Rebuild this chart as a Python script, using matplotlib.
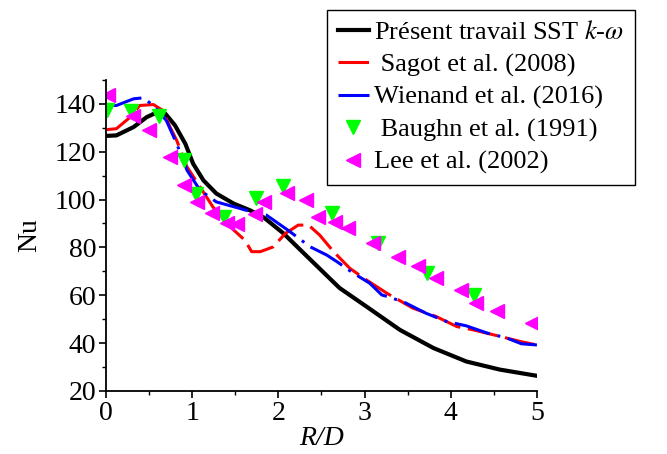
import matplotlib
matplotlib.use("Agg")
import matplotlib.pyplot as plt
from matplotlib.ticker import MultipleLocator

plt.rcParams['font.family'] = ['Liberation Serif', 'DejaVu Serif']
plt.rcParams['mathtext.fontset'] = 'stix'

# Present work SST k-omega
present_x = [0.0, 0.12, 0.32, 0.47, 0.57, 0.69, 0.80, 0.92, 1.01, 1.13, 1.28, 1.48, 1.67,
             1.83, 2.06, 2.33, 2.71, 3.02, 3.41, 3.80, 4.18, 4.57, 5.0]
present_y = [126.6, 126.8, 130.3, 134.4, 136.1, 135.8, 131.0, 123.3, 115.0, 108.0, 102.5,
             98.3, 95.5, 92.5, 85.8, 76.3, 63.0, 55.3, 45.5, 37.9, 32.3, 28.9, 26.3]

# Sagot et al. (2008)
sagot_x = [0.0, 0.12, 0.28, 0.39, 0.55, 0.66, 0.74, 0.82, 0.94, 1.09, 1.24, 1.44, 1.61,
           1.69, 1.79, 1.94, 2.08, 2.23, 2.35, 2.48, 2.64, 2.83, 3.02, 3.26, 3.56, 3.83,
           4.07, 4.26, 4.57, 4.80, 5.0]
sagot_y = [129.2, 129.6, 134.4, 139.3, 139.7, 137.2, 130.5, 124.7, 113.6, 105.3, 96.9,
           88.6, 83.0, 78.2, 78.2, 80.2, 85.8, 89.3, 89.3, 85.1, 78.2, 71.2, 66.4, 60.8,
           54.6, 51.1, 46.9, 45.5, 42.8, 40.7, 39.2]

# Wienand et al. (2016)
wienand_x = [0.0, 0.12, 0.32, 0.43, 0.55, 0.70, 0.82, 0.94, 1.09, 1.28, 1.55, 1.75, 1.86,
             2.11, 2.37, 2.56, 2.68, 2.87, 3.06, 3.20, 3.29, 3.48, 3.71, 3.95, 4.18, 4.42,
             4.65, 4.82, 5.0]
wienand_y = [139.5, 139.3, 142.1, 142.5, 139.3, 133.0, 123.3, 112.2, 103.9, 99.0, 96.3,
             94.2, 93.5, 87.2, 80.2, 76.8, 74.0, 69.2, 65.0, 60.1, 59.2, 56.7, 52.5, 49.0,
             47.2, 44.2, 42.1, 39.7, 39.2]

# Baughn et al. (1991)
baughn_x = [0.01, 0.29, 0.62, 0.91, 1.04, 1.37, 1.74, 2.05, 2.62, 3.15, 3.72, 4.27]
baughn_y = [137.5, 137.2, 135.1, 116.7, 102.5, 92.8, 100.8, 105.5, 94.4, 81.7, 69.2, 60.1]

# Lee et al. (2002)
lee_x = [0.02, 0.31, 0.50, 0.74, 0.91, 1.05, 1.23, 1.40, 1.52, 1.73, 1.83, 2.10, 2.32,
         2.46, 2.66, 2.81, 3.10, 3.39, 3.62, 3.83, 4.12, 4.29, 4.54, 4.94]
lee_y = [143.5, 135.1, 128.9, 117.8, 106.0, 99.0, 94.2, 90.0, 89.7, 93.9, 99.0, 102.8,
         99.7, 92.8, 90.7, 87.9, 81.7, 75.8, 72.3, 67.1, 62.2, 56.9, 53.2, 48.3]

fig = plt.figure(figsize=(6.67, 4.54), dpi=100)
ax = fig.add_axes([0.159, 0.139, 0.646, 0.685])

ax.plot(present_x, present_y, color='black', lw=3.0, label='Présent travail SST $k$-$\\omega$')
ax.plot(sagot_x, sagot_y, color='red', lw=2.2, dashes=(10, 2.5), label=' Sagot et al. (2008)')
ax.plot(wienand_x, wienand_y, color='blue', lw=2.2, dashes=(12, 2.5, 1, 2.5),
        label='Wienand et al. (2016)')
ax.plot(baughn_x, baughn_y, ls='none', marker='v', color='#00ff00', ms=9.5,
        label=' Baughn et al. (1991)')
ax.plot(lee_x, lee_y, ls='none', marker='<', color='#ff00ff', ms=9.5,
        label='Lee et al. (2002)')

ax.set_xlim(0, 5)
ax.set_ylim(20, 150)
ax.set_yticks([20, 40, 60, 80, 100, 120, 140])
ax.xaxis.set_minor_locator(MultipleLocator(0.5))
ax.yaxis.set_minor_locator(MultipleLocator(10))
ax.tick_params(which='major', direction='out', length=5, width=1.2, labelsize=20, pad=2)
ax.tick_params(which='minor', direction='out', length=3, width=1.0)
for s in ['top', 'right']:
    ax.spines[s].set_visible(False)
for s in ['left', 'bottom']:
    ax.spines[s].set_linewidth(1.3)

ax.set_xlabel('R/D', fontsize=20, style='italic', labelpad=0)
ax.set_ylabel('Nu', fontsize=20, labelpad=9)

leg = ax.legend(loc='upper left', bbox_to_anchor=(327 / 667, 1 - 10 / 454),
                bbox_transform=fig.transFigure, fontsize=19, frameon=True, fancybox=False,
                edgecolor='black', framealpha=1, handlelength=1.2, handletextpad=0.2,
                labelspacing=0.33, borderpad=0.4, borderaxespad=0)
leg.get_frame().set_linewidth(1.0)

fig.savefig('out.png', dpi=100)
